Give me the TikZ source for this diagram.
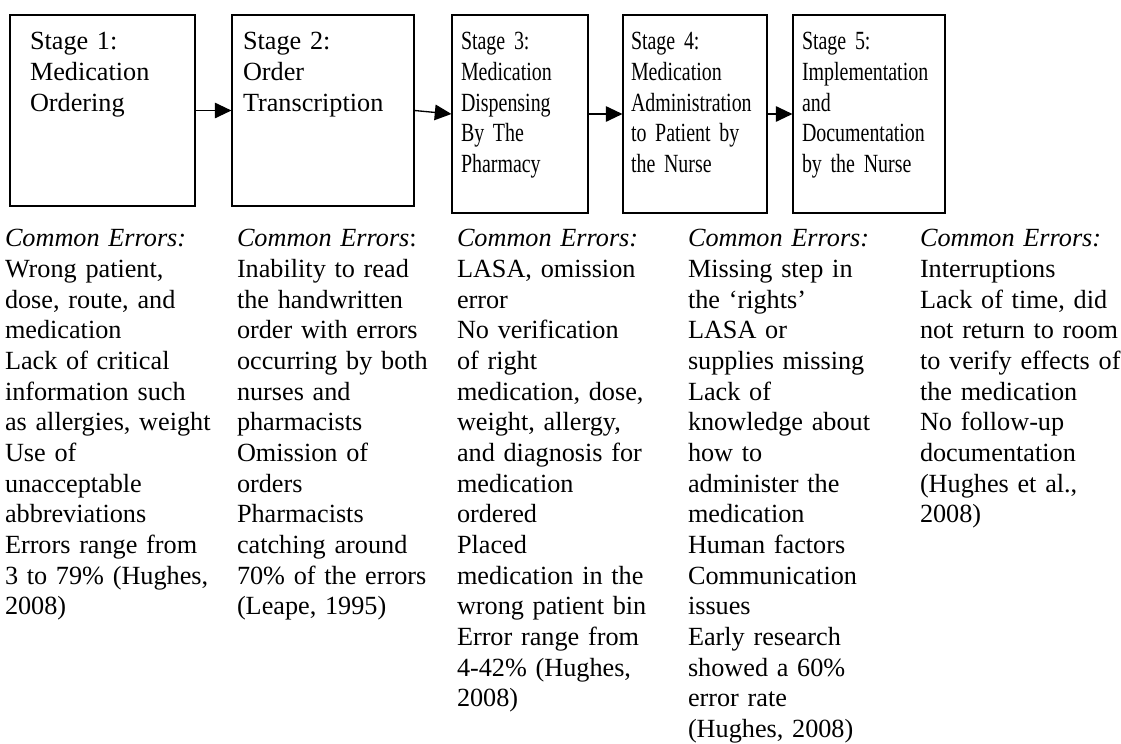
\documentclass[tikz,border=0pt]{standalone}
\usepackage{fontspec}
\setmainfont{Liberation Serif}
\newfontfamily\narrowserif[FakeStretch=0.76,WordSpace=0.78]{Liberation Serif}
\usetikzlibrary{arrows.meta}
\begin{document}
\begin{tikzpicture}[x=0.45pt,y=-0.45pt,
  box/.style={draw=black, line width=0.5pt, inner sep=0pt, fill=none},
  txt/.style={anchor=north west, inner sep=0pt, outer sep=0pt, align=left, text width=115pt,
    font=\fontsize{11.8}{13.8}\selectfont},
  ntxt/.style={txt, font=\narrowserif\fontsize{11.8}{13.8}\selectfont},
  flow/.style={draw=black, line width=0.6pt, -{Triangle[length=7.5pt,width=7pt]}}]
\useasboundingbox (0,0) rectangle (1121,743);
% stage boxes
\node[box, minimum width=83.25pt, minimum height=85.95pt] (b1) at (102.5,110.5) {};
\node[box, minimum width=81.9pt, minimum height=85.95pt] (b2) at (323,110.5) {};
\node[box, minimum width=61.2pt, minimum height=89.1pt] (b3) at (520,114) {};
\node[box, minimum width=64.8pt, minimum height=89.1pt] (b4) at (695,114) {};
\node[box, minimum width=68.4pt, minimum height=89.1pt] (b5) at (869,114) {};
% box texts
\node[txt] (s1) at (30,28.5) {\strut Stage 1:\\Medication\\Ordering};
\node[txt] (s2) at (243,28.5) {\strut Stage 2:\\Order\\Transcription};
\node[ntxt] (s3) at (461,28.5) {\strut Stage 3:\\Medication\\Dispensing\\By The\\Pharmacy};
\node[ntxt] (s4) at (631,28.5) {\strut Stage 4:\\Medication\\Administration\\to Patient by\\the Nurse};
\node[ntxt] (s5) at (802,28.5) {\strut Stage 5:\\Implementation\\and\\Documentation\\by the Nurse};
% arrows
\draw[flow] (b1.east) -- (b2.west);
\draw[flow] (b2.east) -- (b3.west);
\draw[flow] (b3.east) -- (b4.west);
\draw[flow] (b4.east) -- (b5.west);
% common errors
\node[txt] (e1) at (5,225.5) {\strut\textit{Common Errors:}\\Wrong patient,\\dose, route, and\\medication\\Lack of critical\\information such\\as allergies, weight\\Use of\\unacceptable\\abbreviations\\Errors range from\\3 to 79\% (Hughes,\\2008)};
\node[txt] (e2) at (237,225.5) {\strut\textit{Common Errors}:\\Inability to read\\the handwritten\\order with errors\\occurring by both\\nurses and\\pharmacists\\Omission of\\orders\\Pharmacists\\catching around\\70\% of the errors\\(Leape, 1995)};
\node[txt] (e3) at (457,225.5) {\strut\textit{Common Errors:}\\LASA, omission\\error\\No verification\\of right\\medication, dose,\\weight, allergy,\\and diagnosis for\\medication\\ordered\\Placed\\medication in the\\wrong patient bin\\Error range from\\4-42\% (Hughes,\\2008)};
\node[txt] (e4) at (688,225.5) {\strut\textit{Common Errors:}\\Missing step in\\the ‘rights’\\LASA or\\supplies missing\\Lack of\\knowledge about\\how to\\administer the\\medication\\Human factors\\Communication\\issues\\Early research\\showed a 60\%\\error rate\\(Hughes, 2008)};
\node[txt] (e5) at (920,225.5) {\strut\textit{Common Errors:}\\Interruptions\\Lack of time, did\\not return to room\\to verify effects of\\the medication\\No follow-up\\documentation\\(Hughes et al.,\\2008)};
\end{tikzpicture}
\end{document}
